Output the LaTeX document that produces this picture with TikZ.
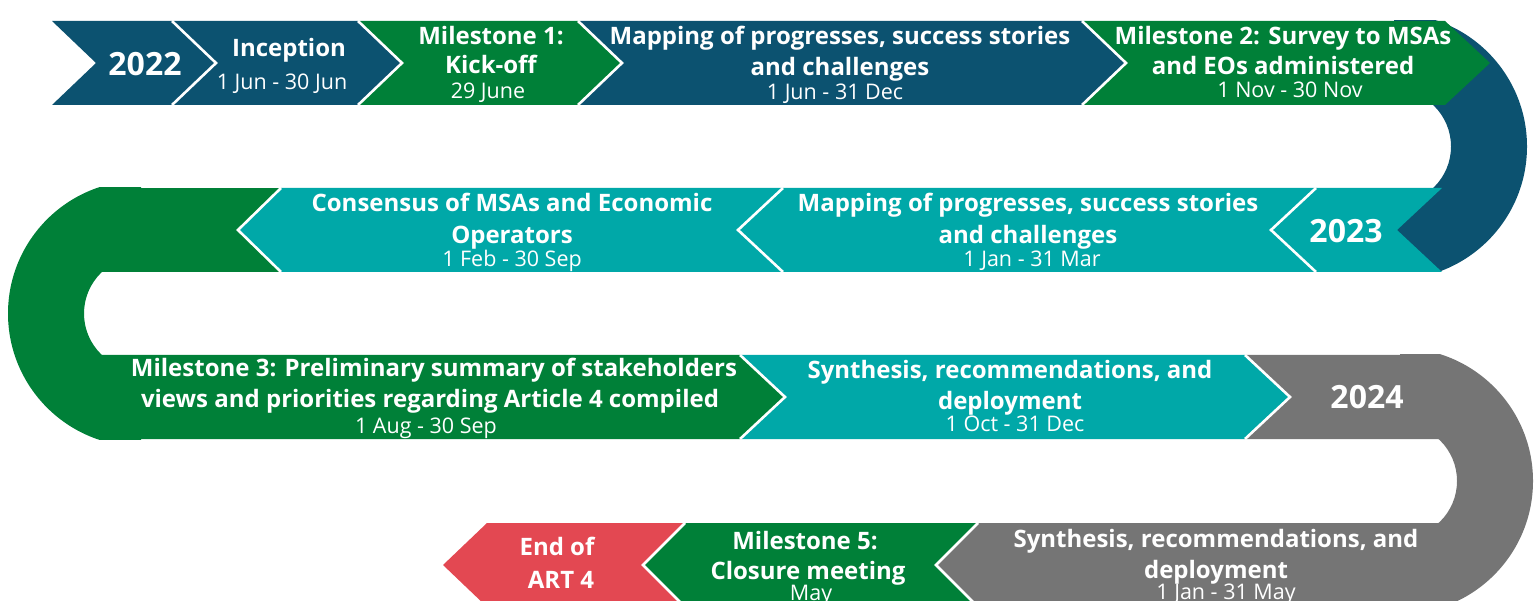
\documentclass[tikz,border=0pt]{standalone}
\usepackage{fontspec}
\setmainfont{Open Sans}
\definecolor{cblue}{HTML}{0C5270}
\definecolor{cgreen}{HTML}{008038}
\definecolor{cteal}{HTML}{00A8A8}
\definecolor{cgray}{HTML}{757575}
\definecolor{cred}{HTML}{E34852}
% color, left top x, left apex x, right top x, right apex x, top y, bottom y
\newcommand\Chev[7]{\fill[#1] (#2,#6) -- (#4,#6) -- (#5,{(#6+#7)/2}) -- (#4,#7) -- (#2,#7) -- (#3,{(#6+#7)/2}) -- cycle;}
% top x, apex x, top y, bottom y
\newcommand\Sep[4]{\draw[sepline] (#1,#3) -- (#2,{(#3+#4)/2}) -- (#1,#4);}
\begin{document}
\begin{tikzpicture}[x=1pt,y=-1pt,
  every node/.style={inner sep=0pt,text=white,anchor=base},
  ttl/.style={font=\bfseries\fontsize{24}{29}\selectfont},
  dt/.style={font=\fontsize{21.5}{25}\selectfont},
  yr/.style={font=\bfseries\fontsize{32}{38}\selectfont},
  sepline/.style={draw=white,line width=2.6pt,line join=miter}]
\clip (0,0) rectangle (1539,601);
% ---- U-turn rings ----
\begin{scope}
  \clip (1300,21) rectangle (1539,272);
  \fill[cblue] (1394,13.5) arc[start angle=90,end angle=-90,radius=133pt]
    -- (1394,203.5) arc[start angle=-90,end angle=90,radius=57pt] -- cycle;
\end{scope}
\begin{scope}
  \clip (0,188) rectangle (300,439);
  \fill[cgreen] (141,180.5) arc[start angle=90,end angle=270,radius=133pt]
    -- (141,370.5) arc[start angle=270,end angle=90,radius=57pt] -- cycle;
  \fill[cgreen] (99,188) rectangle (290,272);
\end{scope}
\begin{scope}
  \clip (1300,355) rectangle (1539,607);
  \fill[cgray] (1400,348) arc[start angle=90,end angle=-90,radius=133pt]
    -- (1400,538) arc[start angle=-90,end angle=90,radius=57pt] -- cycle;
\end{scope}
% ---- row 1 ----
\Chev{cblue}{52}{96}{172}{216}{21}{105}
\Chev{cblue}{172}{216}{358}{402}{21}{105}
\Chev{cgreen}{358}{402}{578}{622}{21}{105}
\Chev{cblue}{578}{622}{1082}{1126}{21}{105}
\Chev{cgreen}{1082}{1126}{1445}{1490}{21}{105}
\Sep{172}{216}{21}{105}
\Sep{358}{402}{21}{105}
\Sep{578}{622}{21}{105}
\Sep{1082}{1126}{21}{105}
% ---- row 2 ----
\Chev{cteal}{1316}{1271}{1442}{1397}{188}{272}
\Chev{cteal}{783}{738}{1316}{1271}{188}{272}
\Chev{cteal}{281}{238}{783}{738}{188}{272}
\Sep{1316}{1271}{188}{272}
\Sep{783}{738}{188}{272}
\Sep{281}{238}{188}{272}
% ---- row 3 ----
\Chev{cgreen}{99}{99}{740}{785}{355}{439}
\Chev{cteal}{740}{785}{1245}{1290}{355}{439}
\Chev{cgray}{1245}{1290}{1441}{1441}{355}{439}
\Sep{740}{785}{355}{439}
\Sep{1245}{1290}{355}{439}
% ---- row 4 ----
\Chev{cgray}{978}{936}{1441}{1441}{523}{607}
\Chev{cgreen}{685}{643}{978}{936}{523}{607}
\Chev{cred}{487}{443}{685}{643}{523}{607}
\Sep{978}{936}{523}{607}
\Sep{685}{643}{523}{607}
% ---- texts row 1 ----
\node[yr] (y22) at (145,76) {2022};
\node[ttl] (inc) at (289,57) {Inception};
\node[dt] (incd) at (282,90) {1 Jun - 30 Jun};
\node[ttl] (m1a) at (491,45) {Milestone 1:};
\node[ttl] (m1b) at (491,74) {Kick-off};
\node[dt] (m1d) at (488,99) {29 June};
\node[ttl] (mpa) at (840,45) {Mapping of progresses, success stories};
\node[ttl] (mpb) at (840,76) {and challenges};
\node[dt] (mpd) at (835,100) {1 Jun - 31 Dec};
\node[ttl] (m2a) at (1283,45) {Milestone 2: Survey to MSAs};
\node[ttl] (m2b) at (1283,75) {and EOs administered};
\node[dt] (m2d) at (1290,98) {1 Nov - 30 Nov};
% ---- texts row 2 ----
\node[yr] (y23) at (1346,243) {2023};
\node[ttl] (mqa) at (1028,212) {Mapping of progresses, success stories};
\node[ttl] (mqb) at (1028,244) {and challenges};
\node[dt] (mqd) at (1032,267) {1 Jan - 31 Mar};
\node[ttl] (csa) at (512,212) {Consensus of MSAs and Economic};
\node[ttl] (csb) at (512,244) {Operators};
\node[dt] (csd) at (512,267) {1 Feb - 30 Sep};
% ---- texts row 3 ----
\node[ttl] (m3a) at (434,377) {Milestone 3: Preliminary summary of stakeholders};
\node[ttl] (m3b) at (430,407) {views and priorities regarding Article 4 compiled};
\node[dt] (m3d) at (426,433) {1 Aug - 30 Sep};
\node[ttl] (sya) at (1010,378) {Synthesis, recommendations, and};
\node[ttl] (syb) at (1010,409) {deployment};
\node[dt] (syd) at (1015,431) {1 Oct - 31 Dec};
\node[yr] (y24) at (1367,408) {2024};
% ---- texts row 4 ----
\node[ttl] (eda) at (557,555) {End of};
\node[ttl] (edb) at (561,588) {ART 4};
\node[ttl] (m5a) at (805,549) {Milestone 5:};
\node[ttl] (m5b) at (808,579) {Closure meeting};
\node[dt] (m5d) at (811,600) {May};
\node[ttl] (sza) at (1216,547) {Synthesis, recommendations, and};
\node[ttl] (szb) at (1216,578) {deployment};
\node[dt] (szd) at (1226,599) {1 Jan - 31 May};
\end{tikzpicture}
\end{document}
